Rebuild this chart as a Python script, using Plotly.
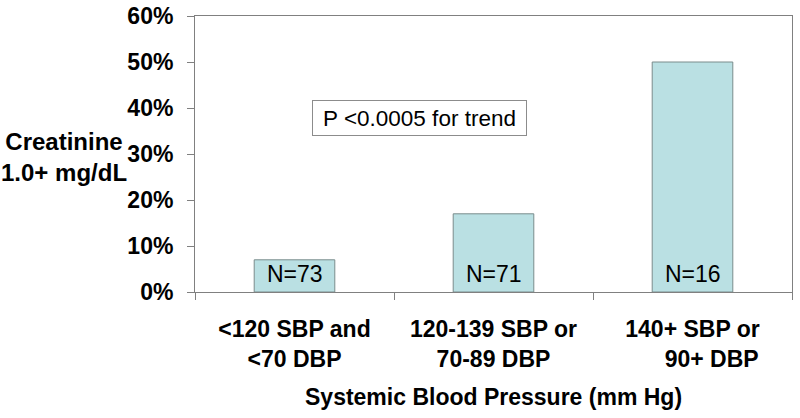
import plotly.graph_objects as go

categories = ["<120 SBP and<br><70 DBP",
              "120-139 SBP or<br>70-89 DBP",
              "140+ SBP or<br>\u00a0\u00a0\u00a0\u00a0\u00a0\u00a090+ DBP"]
values = [0.07, 0.17, 0.50]
n_labels = ["N=73", "N=71", "N=16"]
y_ticks = [0, 0.1, 0.2, 0.3, 0.4, 0.5, 0.6]
y_tick_text = ["0%", "10%", "20%", "30%", "40%", "50%", "60%"]

FONT = "Liberation Sans, Arial, sans-serif"

fig = go.Figure()
fig.add_trace(go.Bar(
    x=categories, y=values, width=0.405,
    marker=dict(color="#BAE0E3", line=dict(color="#7A8C8C", width=1)),
    hoverinfo="skip", showlegend=False,
))

for c, t in zip(categories, n_labels):
    fig.add_annotation(x=c, y=0, xref="x", yref="y", text=t, showarrow=False,
                       yanchor="bottom", yshift=3,
                       font=dict(family=FONT, size=23, color="black"))

fig.add_annotation(x=(419 - 195) / 597, y=(292 - 118) / 276, xref="paper", yref="paper",
                   text="P <0.0005 for trend", showarrow=False,
                   xanchor="center", yanchor="middle",
                   width=205, height=26, borderpad=4,
                   bordercolor="#8C8C8C", borderwidth=1, bgcolor="white",
                   font=dict(family=FONT, size=22.5, color="black"))

fig.add_annotation(x=0, y=(292 - 157) / 276, xref="paper", yref="paper",
                   xshift=-131, xanchor="center", yanchor="middle",
                   text="<b>Creatinine<br>1.0+ mg/dL</b>", showarrow=False,
                   font=dict(family=FONT, size=24, color="black"))

fig.add_annotation(x=0.5, y=0, xref="paper", yref="paper", yshift=-105,
                   xanchor="center", yanchor="middle",
                   text="<b>Systemic Blood Pressure (mm Hg)</b>", showarrow=False,
                   font=dict(family=FONT, size=23, color="black"))

fig.update_layout(
    width=800, height=418,
    margin=dict(l=195, r=8, t=16, b=126),
    paper_bgcolor="white", plot_bgcolor="white",
    font=dict(family=FONT, size=23, color="black"),
    hovermode=False,
    xaxis=dict(
        type="category", range=[-0.5, 2.5],
        showline=True, linecolor="#808080", linewidth=1, mirror=True,
        ticks="outside", tickson="boundaries", ticklen=7, tickcolor="#808080",
        showgrid=False, ticklabelstandoff=16, automargin=False,
        tickfont=dict(family=FONT, size=23, color="black", weight="bold"),
    ),
    yaxis=dict(
        range=[0, 0.6], tickvals=y_ticks, ticktext=y_tick_text,
        showline=True, linecolor="#808080", linewidth=1, mirror=True,
        ticks="outside", ticklen=7, tickcolor="#808080",
        showgrid=False, zeroline=False, ticklabelstandoff=9, automargin=False,
        tickfont=dict(family=FONT, size=23, color="black", weight="bold"),
    ),
)

fig.write_html("out.html", config={"displayModeBar": False},
               post_script="document.body.style.margin='0';document.body.style.overflow='hidden';")
